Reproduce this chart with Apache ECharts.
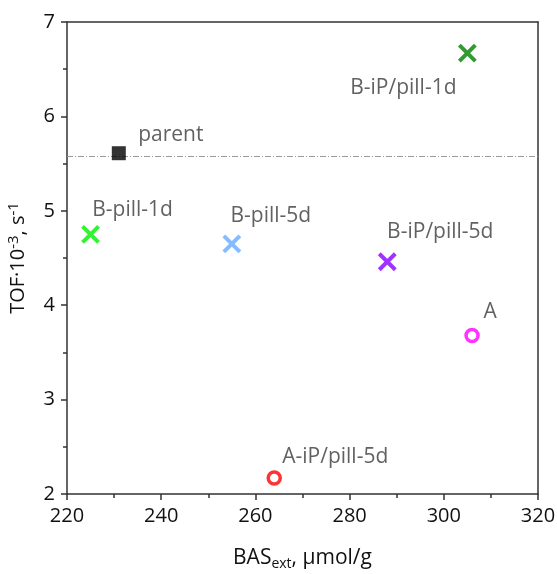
<!DOCTYPE html>
<html><head><meta charset="utf-8">
<script src="https://cdn.jsdelivr.net/npm/echarts@6/dist/echarts.min.js"></script>
<style>html,body{margin:0;padding:0;background:#fff}#c{width:557px;height:574px}</style>
</head><body><div id="c"></div>
<script>
const names = ['parent','B-iP/pill-1d','B-pill-1d','B-pill-5d','B-iP/pill-5d','A','A-iP/pill-5d'];
const basExt = [231, 305, 225, 255, 288, 306, 264];
const tof = [5.61, 6.67, 4.75, 4.65, 4.46, 3.68, 2.17];
const colors = ['#000000','#008000','#00ee00','#66aaff','#8800ff','#ff00ff','#ff0000'];
const shapes = ['square','x','x','x','x','circle','circle'];
const parentLine = 5.58;

const xPath = 'path://M0,0 L10,10 M10,0 L0,10';
const labelOffset = {
  'parent': [52,-18],
  'B-iP/pill-1d': [-64,35],
  'B-pill-1d': [42,-24],
  'B-pill-5d': [39,-28],
  'B-iP/pill-5d': [53,-30],
  'A': [18,-23],
  'A-iP/pill-5d': [61,-21]
};
const font = '"Open Sans", sans-serif';
const axisCommon = {
  axisLine:{show:true, onZero:false, lineStyle:{color:'#333', width:1.5}},
  axisTick:{show:true, inside:false, length:6, lineStyle:{color:'#333', width:1.5}},
  minorTick:{show:true, splitNumber:2, length:4, lineStyle:{color:'#333', width:1.5}},
  axisLabel:{fontSize:20, fontFamily:font, color:'#111', margin:12},
  splitLine:{show:false}
};
const frameAxis = {
  axisLine:{show:true, onZero:false, lineStyle:{color:'#333', width:1.5}},
  axisTick:{show:false}, axisLabel:{show:false}, splitLine:{show:false}
};
const series = names.map((n,i)=>{
  let sym, size, style;
  if (shapes[i]==='x') { sym = xPath; size = 16; style = {color:'none', borderColor:colors[i], borderWidth:4}; }
  else if (shapes[i]==='circle') { sym = 'circle'; size = 12; style = {color:'#fff', borderColor:colors[i], borderWidth:3.5}; }
  else { sym = 'rect'; size = 14; style = {color:colors[i]}; }
  return {
    type:'scatter', name:n, symbol:sym, symbolSize:size, itemStyle:style,
    data:[[basExt[i], tof[i]]],
    label:{show:true, formatter:n, position:'inside', offset:labelOffset[n], color:'#3a3a3a', fontSize:21, fontFamily:font},
    z: 5
  };
});
series.unshift({
  type:'scatter', name:'parent-line', data:[], z:1,
  markLine:{silent:true, symbol:'none', label:{show:false}, z:1,
    lineStyle:{color:'#999', width:1, type:[6,2,1,2]},
    data:[{yAxis:parentLine}]}
});
const chart = echarts.init(document.getElementById('c'));
chart.setOption({
  animation:false,
  grid:{left:67, right:19, top:22, bottom:80, containLabel:false, outerBoundsMode:'none'},
  xAxis:[Object.assign({type:'value', min:220, max:320, interval:20, position:'bottom',
    name:'{n|BAS}{s|ext}{n|, μmol/g}', nameLocation:'middle', nameGap:51,
    nameTextStyle:{rich:{n:{fontSize:21, fontFamily:font, color:'#111'}, s:{fontSize:14, fontFamily:font, color:'#111', verticalAlign:'bottom', padding:[12,0,0,0]}}}
  }, axisCommon),
  Object.assign({type:'value', min:220, max:320, position:'top'}, frameAxis)],
  yAxis:[Object.assign({type:'value', min:2, max:7, interval:1, position:'left',
    name:'{n|TOF·10}{s|-3}{n|, s}{s|-1}', nameLocation:'middle', nameGap:36, nameRotate:90,
    nameTextStyle:{padding:[0,0,0,0], rich:{n:{fontSize:20, fontFamily:font, color:'#111'}, s:{fontSize:15, fontFamily:font, color:'#111', verticalAlign:'top', padding:[0,0,10,0]}}}
  }, axisCommon),
  Object.assign({type:'value', min:2, max:7, position:'right'}, frameAxis)],
  series: series
});
</script></body></html>
